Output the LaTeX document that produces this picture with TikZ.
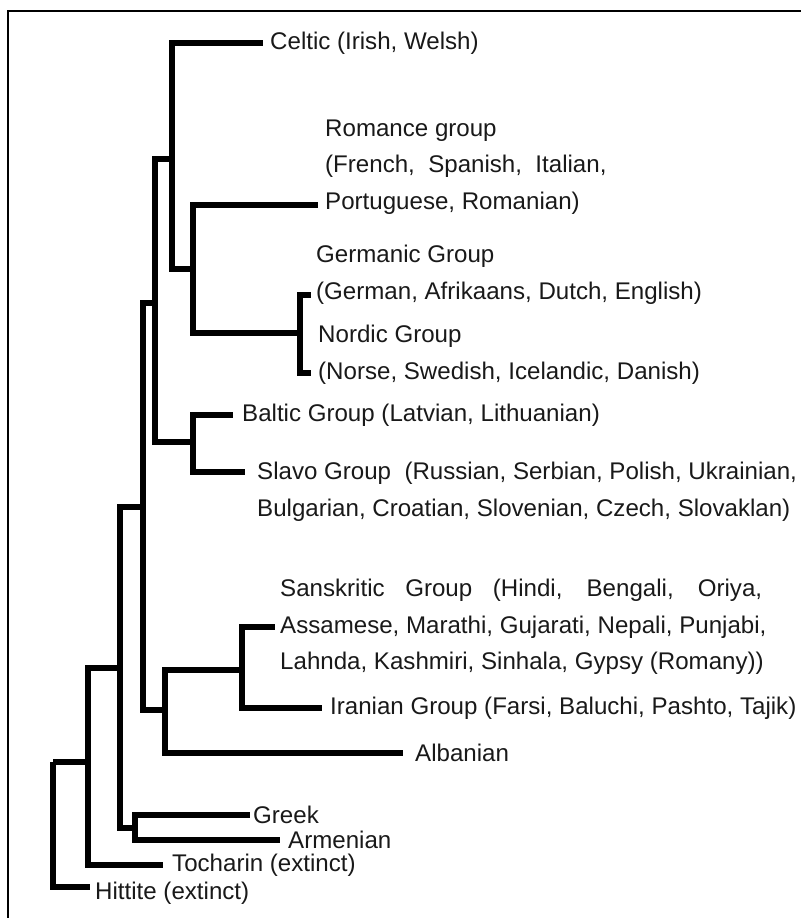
\documentclass[tikz,border=0pt]{standalone}
\usepackage{fontspec}
\setmainfont{Liberation Sans}

\begin{document}
\begin{tikzpicture}[
    x=1pt, y=-1pt,
    branch/.style={line width=5.4pt},
    lang/.style={anchor=west, inner sep=0pt, align=left, text=black!90,
        font=\fontsize{24.1}{36.5}\selectfont},
]

    \useasboundingbox (0,0) rectangle (801,918);
    \draw[line width=1.5pt] (8,918) |- (801,11);

    \coordinate (r0) at (53,762);
    \coordinate (n1) at (88,762);
    \coordinate (n2) at (120,668);
    \coordinate (n3) at (143,507);
    \coordinate (n4) at (135,828);
    \coordinate (n5) at (155,303);
    \coordinate (n6) at (165,710);
    \coordinate (n7) at (172,159);
    \coordinate (n8) at (193,442);
    \coordinate (n9) at (193,269);
    \coordinate (n10) at (300,333);
    \coordinate (n11) at (242,670);

    \coordinate (celticEnd) at (263,43);
    \coordinate (romanceEnd) at (318,205);
    \coordinate (germanicEnd) at (311,295);
    \coordinate (nordicEnd) at (311,373);
    \coordinate (balticEnd) at (233,415);
    \coordinate (slavoEnd) at (245,472);
    \coordinate (sanskritEnd) at (275,627);
    \coordinate (iranianEnd) at (322,708);
    \coordinate (albanianEnd) at (403,753);
    \coordinate (greekEnd) at (250,815);
    \coordinate (armenianEnd) at (280,840);
    \coordinate (tocharinEnd) at (163,865);
    \coordinate (hittiteEnd) at (90,887);

    \node[lang] (celtic) at (270,43) {Celtic (Irish, Welsh)};
    \node[lang] (romance) at (325,167) {Romance group\\(French,\ \ Spanish,\ \ Italian,\\Portuguese, Romanian)};
    \node[lang] (germanic) at (316,275) {Germanic Group\\(German, Afrikaans, Dutch, English)};
    \node[lang] (nordic) at (318,355) {Nordic Group\\(Norse, Swedish, Icelandic, Danish)};
    \node[lang] (baltic) at (242,415) {Baltic Group (Latvian, Lithuanian)};
    \node[lang] (slavo) at (257,492) {Slavo Group\ \ (Russian, Serbian, Polish, Ukrainian,\\Bulgarian, Croatian, Slovenian, Czech, Slovaklan)};
    \node[lang] (sanskrit) at (280,627) {\makebox[482pt][s]{Sanskritic Group (Hindi, Bengali, Oriya,}\\Assamese, Marathi, Gujarati, Nepali, Punjabi,\\Lahnda, Kashmiri, Sinhala, Gypsy (Romany))};
    \node[lang] (iranian) at (330,708) {Iranian Group (Farsi, Baluchi, Pashto, Tajik)};
    \node[lang] (albanian) at (415,753) {Albanian};
    \node[lang] (greek) at (253,815) {Greek};
    \node[lang] (armenian) at (288,840) {Armenian};
    \node[lang] (tocharin) at (172,865) {Tocharin (extinct)};
    \node[lang] (hittite) at (95,893) {Hittite (extinct)};

    \draw[branch] (r0) |- (n1);
    \draw[branch] (r0) |- (hittiteEnd);
    \draw[branch] (n1) |- (n2);
    \draw[branch] (n1) |- (tocharinEnd);
    \draw[branch] (n2) |- (n3);
    \draw[branch] (n2) |- (n4);
    \draw[branch] (n4) |- (greekEnd);
    \draw[branch] (n4) |- (armenianEnd);
    \draw[branch] (n3) |- (n5);
    \draw[branch] (n3) |- (n6);
    \draw[branch] (n5) |- (n7);
    \draw[branch] (n5) |- (n8);
    \draw[branch] (n7) |- (celticEnd);
    \draw[branch] (n7) |- (n9);
    \draw[branch] (n9) |- (romanceEnd);
    \draw[branch] (n9) |- (n10);
    \draw[branch] (n10) |- (germanicEnd);
    \draw[branch] (n10) |- (nordicEnd);
    \draw[branch] (n8) |- (balticEnd);
    \draw[branch] (n8) |- (slavoEnd);
    \draw[branch] (n6) |- (n11);
    \draw[branch] (n6) |- (albanianEnd);
    \draw[branch] (n11) |- (sanskritEnd);
    \draw[branch] (n11) |- (iranianEnd);

\end{tikzpicture}
\end{document}
